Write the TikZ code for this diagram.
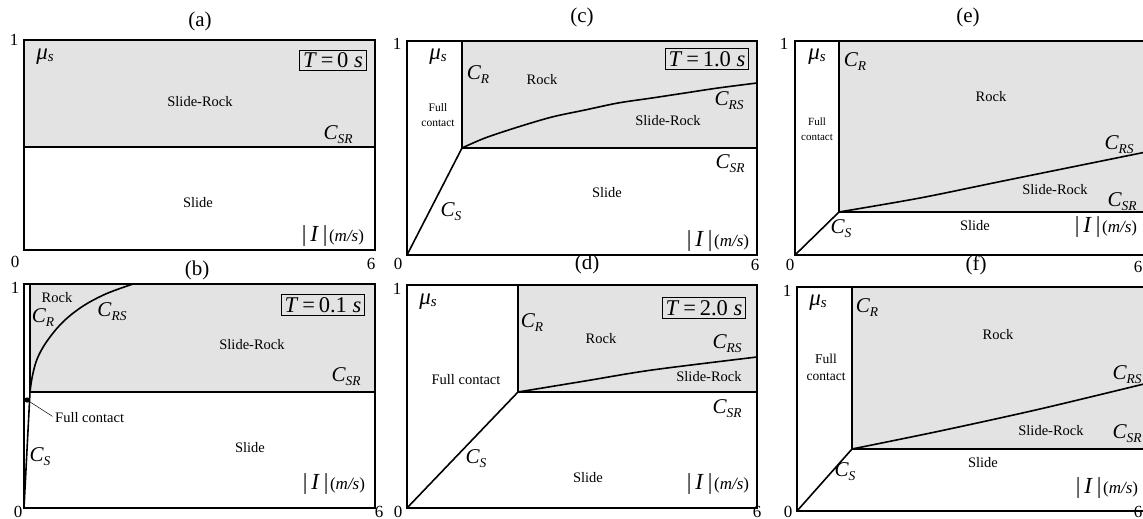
\documentclass[tikz,border=0pt]{standalone}
\usepackage{fontspec}
\setmainfont{Liberation Serif}
\newcommand{\Csub}[1]{{\fontsize{21}{22}\selectfont\itshape C}\raisebox{-4pt}{\fontsize{13.5}{14}\selectfont\itshape #1}}
\newcommand{\MuS}{{\fontsize{23}{24}\selectfont\itshape μ}\raisebox{-2pt}{\fontsize{15}{15}\selectfont\itshape s}}
\newcommand{\Iunit}{{\fontsize{23}{24}\selectfont |\,\textit{I}\,|}\,{\fontsize{17}{18}\selectfont(\textit{m/s})}}
\newcommand{\Tval}[1]{\textit{T}\,=\,#1\ \textit{s}}
\begin{document}
\begin{tikzpicture}[x=1pt,y=-1pt,
  frame/.style={draw=black,line width=1.1pt},
  bnd/.style={draw=black,line width=1.6pt,line join=round,line cap=round},
  region/.style={fill=black!11},
  lbl/.style={font=\fontsize{14.5}{16}\selectfont,inner sep=0pt},
  fcs/.style={font=\fontsize{11.5}{15}\selectfont,inner sep=0pt,align=center},
  ttl/.style={font=\fontsize{21}{24}\selectfont,inner sep=0pt},
  num/.style={font=\fontsize{17}{20}\selectfont,inner sep=0pt},
  tbox/.style={draw,line width=0.8pt,inner xsep=3.5pt,inner ysep=2.5pt,font=\fontsize{22.5}{24}\selectfont},
  cl/.style={inner sep=0pt}]
\useasboundingbox (0,0) rectangle (1143,519);
\clip (0,0) rectangle (1143,519);

% ---------------- panel (a)
\coordinate (aTL) at (24,40); \coordinate (aBR) at (375,250);
\coordinate (aSL) at (24,147); \coordinate (aSR) at (375,147);
\fill[region] (aTL) rectangle (aSR);
\draw[frame] (aTL) rectangle (aBR);
\draw[bnd] (aSL) -- (aSR);
\node[ttl] (ta) at (200,21) {(a)};
\node[num] (a1) at (14,40) {1};
\node[num] (a0) at (15,262) {0};
\node[num] (a6) at (371,264) {6};
\node[cl] (amu) at (45,57) {\MuS};
\node[tbox] (aT) at (333,60) {\Tval{0}};
\node[lbl] (aSRk) at (200,102) {Slide-Rock};
\node[cl] (aCSR) at (338,135) {\Csub{SR}};
\node[lbl] (aSl) at (198,203) {Slide};
\node[cl] (aI) at (333,236) {\Iunit};

% ---------------- panel (b)
\coordinate (bTL) at (24,284); \coordinate (bBR) at (375,508);
\coordinate (bRT) at (30,284); \coordinate (bK) at (30,392); \coordinate (bR) at (375,392);
\coordinate (bO) at (24,508);
\fill[region] (bRT) rectangle (bR);
\draw[frame] (bTL) rectangle (bBR);
\draw[bnd] (bRT) -- (bK) -- (bR);
\draw[bnd] (bO) -- (bK);
\draw[bnd] plot[smooth,tension=0.6] coordinates {(30,392)(32,378)(36,362)(42,349)(50,337)(60,325)(72,314)(88,303)(108,293)(133,284)};
\coordinate (bdot) at (27,400);
\fill (bdot) circle (2.6);
\node[lbl,anchor=west] (bFC) at (55,418) {Full contact};
\draw[line width=0.5pt,shorten >=3pt] (bdot) -- (bFC.west);
\node[ttl] (tb) at (197,270) {(b)};
\node[num] (b1) at (15,288) {1};
\node[num] (b0) at (18,512) {0};
\node[num] (b6) at (379,512) {6};
\node[lbl] (bRk) at (57,298) {Rock};
\node[cl] (bCR) at (43,318) {\Csub{R}};
\node[cl] (bCRS) at (112,312) {\Csub{RS}};
\node[tbox] (bT) at (323,305) {\Tval{0.1}};
\node[lbl] (bSRk) at (252,345) {Slide-Rock};
\node[cl] (bCSR) at (346,377) {\Csub{SR}};
\node[cl] (bCS) at (40,457) {\Csub{S}};
\node[lbl] (bSl) at (250,448) {Slide};
\node[cl] (bI) at (334,484) {\Iunit};

% ---------------- panel (c)
\coordinate (cTL) at (407,41); \coordinate (cBR) at (757,255);
\coordinate (cRT) at (462,41); \coordinate (cK) at (462,148); \coordinate (cR) at (757,148);
\coordinate (cO) at (407,255);
\fill[region] (cRT) rectangle (cR);
\draw[frame] (cTL) rectangle (cBR);
\draw[bnd] (cRT) -- (cK) -- (cR);
\draw[bnd] (cO) -- (cK);
\draw[bnd] plot[smooth] coordinates {(462,148)(485,138)(518,127)(552,117)(585,110)(618,103)(652,98)(685,93)(718,88)(757,83)};
\node[ttl] (tc) at (582,17) {(c)};
\node[num] (c1) at (397,44) {1};
\node[num] (c0) at (398,264) {0};
\node[num] (c6) at (755,265) {6};
\node[cl] (cmu) at (438,57) {\MuS};
\node[fcs] (cFC) at (438,115) {Full\\contact};
\node[cl] (cCR) at (478,75) {\Csub{R}};
\node[lbl] (cRk) at (542,80) {Rock};
\node[tbox] (cT) at (707,59) {\Tval{1.0}};
\node[cl] (cCRS) at (729,101) {\Csub{RS}};
\node[lbl] (cSRk) at (668,121) {Slide-Rock};
\node[cl] (cCSR) at (730,164) {\Csub{SR}};
\node[lbl] (cSl) at (607,193) {Slide};
\node[cl] (cCS) at (451,212) {\Csub{S}};
\node[cl] (cI) at (718,241) {\Iunit};

% ---------------- panel (d)
\coordinate (dTL) at (407,285); \coordinate (dBR) at (757,508);
\coordinate (dRT) at (518,285); \coordinate (dK) at (518,392); \coordinate (dR) at (757,392);
\coordinate (dO) at (407,508);
\fill[region] (dRT) rectangle (dR);
\draw[frame] (dTL) rectangle (dBR);
\draw[bnd] (dRT) -- (dK) -- (dR);
\draw[bnd] (dO) -- (dK);
\draw[bnd] plot[smooth] coordinates {(518,392)(585,381)(652,370)(757,357)};
\node[ttl] (td) at (587,264) {(d)};
\node[num] (d1) at (397,289) {1};
\node[num] (d0) at (398,512) {0};
\node[num] (d6) at (757,512) {6};
\node[cl] (dmu) at (428,302) {\MuS};
\node[lbl] (dFC) at (466,380) {Full contact};
\node[cl] (dCR) at (532,323) {\Csub{R}};
\node[lbl] (dRk) at (601,339) {Rock};
\node[tbox] (dT) at (704,308) {\Tval{2.0}};
\node[cl] (dCRS) at (727,344) {\Csub{RS}};
\node[lbl] (dSRk) at (709,377) {Slide-Rock};
\node[cl] (dCSR) at (727,409) {\Csub{SR}};
\node[cl] (dCS) at (476,459) {\Csub{S}};
\node[lbl] (dSl) at (588,478) {Slide};
\node[cl] (dI) at (718,484) {\Iunit};

% ---------------- panel (e)
\coordinate (eTL) at (795,41); \coordinate (eBR) at (1146,255);
\coordinate (eRT) at (839,41); \coordinate (eK) at (839,212); \coordinate (eR) at (1146,212);
\coordinate (eO) at (795,255);
\fill[region] (eRT) rectangle (eR);
\draw[frame] (eTL) rectangle (eBR);
\draw[bnd] (eRT) -- (eK) -- (eR);
\draw[bnd] (eO) -- (eK);
\draw[bnd] plot[smooth] coordinates {(839,212)(920,198)(1003,181)(1146,152)};
\node[ttl] (te) at (968,17) {(e)};
\node[num] (e1) at (784,44) {1};
\node[num] (e0) at (790,265) {0};
\node[num] (e6) at (1138,267) {6};
\node[cl] (emu) at (817,57) {\MuS};
\node[cl] (eCR) at (855,62) {\Csub{R}};
\node[fcs,font=\fontsize{11}{15}\selectfont] (eFC) at (817,129) {Full\\contact};
\node[lbl] (eRk) at (991,97) {Rock};
\node[cl] (eCRS) at (1119,145) {\Csub{RS}};
\node[lbl] (eSRk) at (1055,190) {Slide-Rock};
\node[cl] (eCSR) at (1122,202) {\Csub{SR}};
\node[cl] (eCS) at (841,229) {\Csub{S}};
\node[lbl] (eSl) at (975,226) {Slide};
\node[cl] (eI) at (1106,227) {\Iunit};

% ---------------- panel (f)
\coordinate (fTL) at (797,287); \coordinate (fBR) at (1148,511);
\coordinate (fRT) at (852,287); \coordinate (fK) at (852,449); \coordinate (fR) at (1148,449);
\coordinate (fO) at (797,511);
\fill[region] (fRT) rectangle (fR);
\draw[frame] (fTL) rectangle (fBR);
\draw[bnd] (fRT) -- (fK) -- (fR);
\draw[bnd] (fO) -- (fK);
\draw[bnd] plot[smooth] coordinates {(852,449)(940,431)(1040,409)(1148,383)};
\node[ttl] (tf) at (976,265) {(f)};
\node[num] (f1) at (787,291) {1};
\node[num] (f0) at (788,512) {0};
\node[num] (f6) at (1138,512) {6};
\node[cl] (fmu) at (818,303) {\MuS};
\node[cl] (fCR) at (867,308) {\Csub{R}};
\node[fcs,font=\fontsize{13.5}{17}\selectfont] (fFC) at (826,367) {Full\\contact};
\node[lbl] (fRk) at (998,335) {Rock};
\node[cl] (fCRS) at (1127,375) {\Csub{RS}};
\node[lbl] (fSRk) at (1051,431) {Slide-Rock};
\node[cl] (fCSR) at (1127,434) {\Csub{SR}};
\node[cl] (fCS) at (845,472) {\Csub{S}};
\node[lbl] (fSl) at (983,463) {Slide};
\node[cl] (fI) at (1107,488) {\Iunit};
\end{tikzpicture}
\end{document}
